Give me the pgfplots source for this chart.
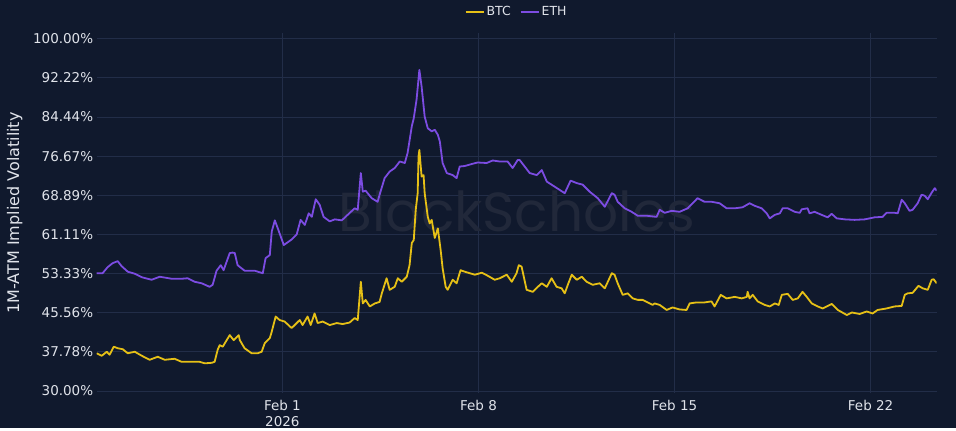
\documentclass[border=0pt]{standalone}
\usepackage{pgfplots}
\pgfplotsset{compat=1.18}
\usepackage{fontspec}
\setmainfont{DejaVu Sans}
\newfontfamily\wmfont{Poppins}
\definecolor{bg}{RGB}{16,25,45}
\definecolor{gridc}{RGB}{34,45,72}
\definecolor{txt}{RGB}{224,227,234}
\definecolor{btc}{RGB}{230,192,22}
\definecolor{eth}{RGB}{124,76,226}
\definecolor{wm}{RGB}{33,40,58}

\pgfplotstableread{
d v
-6.63 53.4
-6.42 53.4
-6.24 54.6
-6.06 55.4
-5.88 55.8
-5.74 54.8
-5.52 53.7
-5.27 53.3
-5.02 52.6
-4.67 52.1
-4.38 52.7
-3.95 52.3
-3.60 52.3
-3.38 52.4
-3.13 51.7
-2.88 51.4
-2.60 50.7
-2.49 51.1
-2.35 53.9
-2.20 55.0
-2.10 54.0
-1.88 57.4
-1.78 57.5
-1.70 57.4
-1.60 55.0
-1.35 53.9
-0.99 53.9
-0.70 53.4
-0.60 56.4
-0.45 57.0
-0.38 61.7
-0.27 63.9
-0.17 62.4
0.05 59.0
0.33 60.1
0.51 61.1
0.65 64.0
0.80 63.0
0.94 65.3
1.05 64.6
1.19 68.1
1.33 67.0
1.47 64.6
1.69 63.7
1.87 64.1
2.12 63.9
2.33 65.0
2.58 66.3
2.69 66.0
2.80 73.3
2.87 69.6
2.97 69.8
3.19 68.3
3.40 67.6
3.47 69.0
3.65 72.3
3.83 73.6
4.01 74.3
4.19 75.6
4.37 75.3
4.47 77.3
4.62 82.6
4.69 84.2
4.79 87.9
4.89 93.8
4.97 90.5
5.08 84.5
5.19 82.2
5.33 81.6
5.44 81.9
5.55 80.9
5.62 79.6
5.72 75.3
5.87 73.3
6.08 72.9
6.22 72.3
6.33 74.6
6.51 74.7
6.76 75.1
6.97 75.4
7.29 75.3
7.51 75.8
7.76 75.6
8.04 75.6
8.22 74.3
8.40 75.9
8.47 75.9
8.65 74.6
8.83 73.3
9.08 72.9
9.26 73.9
9.44 71.6
9.72 70.6
10.08 69.3
10.29 71.8
10.51 71.3
10.72 71.0
10.97 69.6
11.26 68.3
11.51 66.6
11.76 69.3
11.86 69.0
11.97 67.6
12.22 66.3
12.47 65.6
12.69 64.8
13.04 64.8
13.36 64.6
13.47 66.0
13.65 65.4
13.90 65.8
14.18 65.6
14.47 66.3
14.82 68.3
15.07 67.6
15.32 67.6
15.61 67.3
15.86 66.3
16.15 66.3
16.43 66.5
16.68 67.3
16.86 66.8
17.11 66.3
17.29 65.3
17.40 64.3
17.58 65.0
17.76 65.3
17.86 66.3
18.04 66.3
18.29 65.6
18.47 65.4
18.54 66.1
18.75 66.3
18.82 65.3
19.00 65.6
19.25 65.0
19.47 64.5
19.61 65.2
19.79 64.3
20.08 64.1
20.43 64.0
20.79 64.1
21.14 64.5
21.43 64.6
21.57 65.4
21.86 65.4
21.97 65.3
22.11 68.0
22.22 67.3
22.39 65.8
22.50 66.0
22.68 67.3
22.82 69.0
22.93 68.8
23.04 68.1
23.18 69.4
23.29 70.3
23.36 69.8
}\ethdata

\pgfplotstableread{
d v
-6.63 37.5
-6.45 37.0
-6.27 37.8
-6.17 37.2
-6.02 38.8
-5.88 38.5
-5.70 38.3
-5.52 37.5
-5.27 37.8
-5.02 37.0
-4.74 36.2
-4.45 36.8
-4.20 36.2
-3.85 36.4
-3.60 35.8
-3.24 35.8
-2.96 35.8
-2.77 35.5
-2.52 35.6
-2.42 35.8
-2.31 38.2
-2.24 39.1
-2.13 38.8
-1.88 41.1
-1.74 40.1
-1.56 41.1
-1.52 40.1
-1.35 38.5
-1.10 37.5
-0.88 37.5
-0.74 37.8
-0.63 39.5
-0.45 40.5
-0.38 41.8
-0.24 44.8
-0.10 44.1
0.08 43.8
0.33 42.5
0.51 43.5
0.62 44.1
0.72 43.1
0.90 44.8
1.01 43.1
1.15 45.4
1.26 43.5
1.44 43.8
1.69 43.1
1.94 43.5
2.15 43.3
2.40 43.6
2.58 44.5
2.69 44.1
2.80 51.7
2.87 47.4
2.97 48.1
3.12 46.8
3.30 47.4
3.47 47.7
3.55 49.4
3.72 52.4
3.83 50.1
4.01 50.7
4.12 52.4
4.26 51.7
4.44 52.7
4.54 55.0
4.62 59.4
4.69 60.0
4.76 66.0
4.83 69.3
4.86 76.6
4.89 77.9
4.97 72.6
5.04 72.9
5.08 69.3
5.19 64.6
5.26 63.3
5.33 64.0
5.44 60.4
5.55 62.3
5.65 58.0
5.72 54.4
5.83 50.7
5.90 50.1
6.08 52.1
6.22 51.4
6.36 54.0
6.51 53.7
6.69 53.4
6.87 53.1
7.12 53.5
7.33 52.9
7.58 52.1
7.76 52.4
8.01 53.1
8.19 51.7
8.36 53.4
8.44 55.0
8.54 54.7
8.72 50.1
8.94 49.7
9.12 50.7
9.26 51.4
9.44 50.7
9.61 52.4
9.79 50.7
9.97 50.4
10.08 49.4
10.19 51.1
10.33 53.1
10.51 52.1
10.69 52.7
10.86 51.7
11.08 51.1
11.33 51.4
11.51 50.4
11.76 53.4
11.86 53.1
11.97 51.4
12.15 49.1
12.33 49.4
12.51 48.4
12.69 48.1
12.86 48.1
13.04 47.6
13.22 47.1
13.29 47.4
13.47 47.1
13.72 46.1
13.93 46.6
14.18 46.2
14.43 46.1
14.54 47.4
14.79 47.6
15.07 47.6
15.32 47.8
15.43 46.8
15.65 49.1
15.86 48.4
16.15 48.7
16.40 48.4
16.58 48.7
16.61 49.7
16.68 48.4
16.79 49.1
16.97 47.8
17.22 47.1
17.40 46.8
17.58 47.4
17.72 47.1
17.83 49.1
18.04 49.3
18.22 48.1
18.40 48.4
18.57 49.7
18.72 48.7
18.90 47.4
19.11 46.8
19.29 46.4
19.61 47.3
19.83 46.1
20.15 45.1
20.33 45.6
20.61 45.3
20.86 45.8
21.07 45.4
21.25 46.1
21.57 46.4
21.86 46.8
22.11 46.9
22.22 49.1
22.32 49.4
22.50 49.5
22.71 50.9
22.86 50.4
23.04 50.1
23.18 52.1
23.25 52.2
23.36 51.4
}\btcdata

\begin{document}
\begin{tikzpicture}
\fill[bg] (-96.7pt,-35pt) rectangle (859.3pt,393pt);
\begin{axis}[
  at={(0,0)}, anchor=south west,
  scale only axis, width=840pt, height=360pt,
  xmin=-6.63, xmax=23.36, ymin=29.6, ymax=101.13,
  axis line style={draw=none},
  major tick length=0pt,
  grid=major,
  grid style={gridc, line width=0.8pt},
  xtick={0,7,14,21},
  xticklabels={{Feb 1\\2026},{Feb 8},{Feb 15},{Feb 22}},
  x tick label style={align=center, font=\fontsize{13.5}{16.5}\selectfont, text=txt, yshift=-3.5pt},
  ytick={30,37.78,45.56,53.33,61.11,68.89,76.67,84.44,92.22,100},
  yticklabels={30.00\%,37.78\%,45.56\%,53.33\%,61.11\%,68.89\%,76.67\%,84.44\%,92.22\%,100.00\%},
  y tick label style={font=\fontsize{13.5}{16}\selectfont, text=txt},
  ylabel={1M-ATM Implied Volatility},
  every axis y label/.style={at={(axis description cs:-0.0976,0.5)}, rotate=90, anchor=center, font=\fontsize{16}{18}\selectfont, text=txt},
  legend style={at={(0.5,1)}, anchor=center, yshift=21pt, draw=none, fill=none, text=txt, font=\fontsize{12.5}{14}\selectfont, legend columns=2, /tikz/every even column/.append style={column sep=7pt}},
  legend image code/.code={\draw[#1, line width=1.8pt] (0pt,0pt) -- (18pt,0pt);},
]
\node[font=\wmfont\fontsize{55}{60}\selectfont, text=wm] at (axis cs:8.37,65.6) {BlockScholes};
\addplot[btc, line width=1.8pt, line join=round] table[x=d, y=v] {\btcdata};
\addlegendentry{BTC}
\addplot[eth, line width=1.8pt, line join=round] table[x=d, y=v] {\ethdata};
\addlegendentry{ETH}
\end{axis}
\end{tikzpicture}
\end{document}
